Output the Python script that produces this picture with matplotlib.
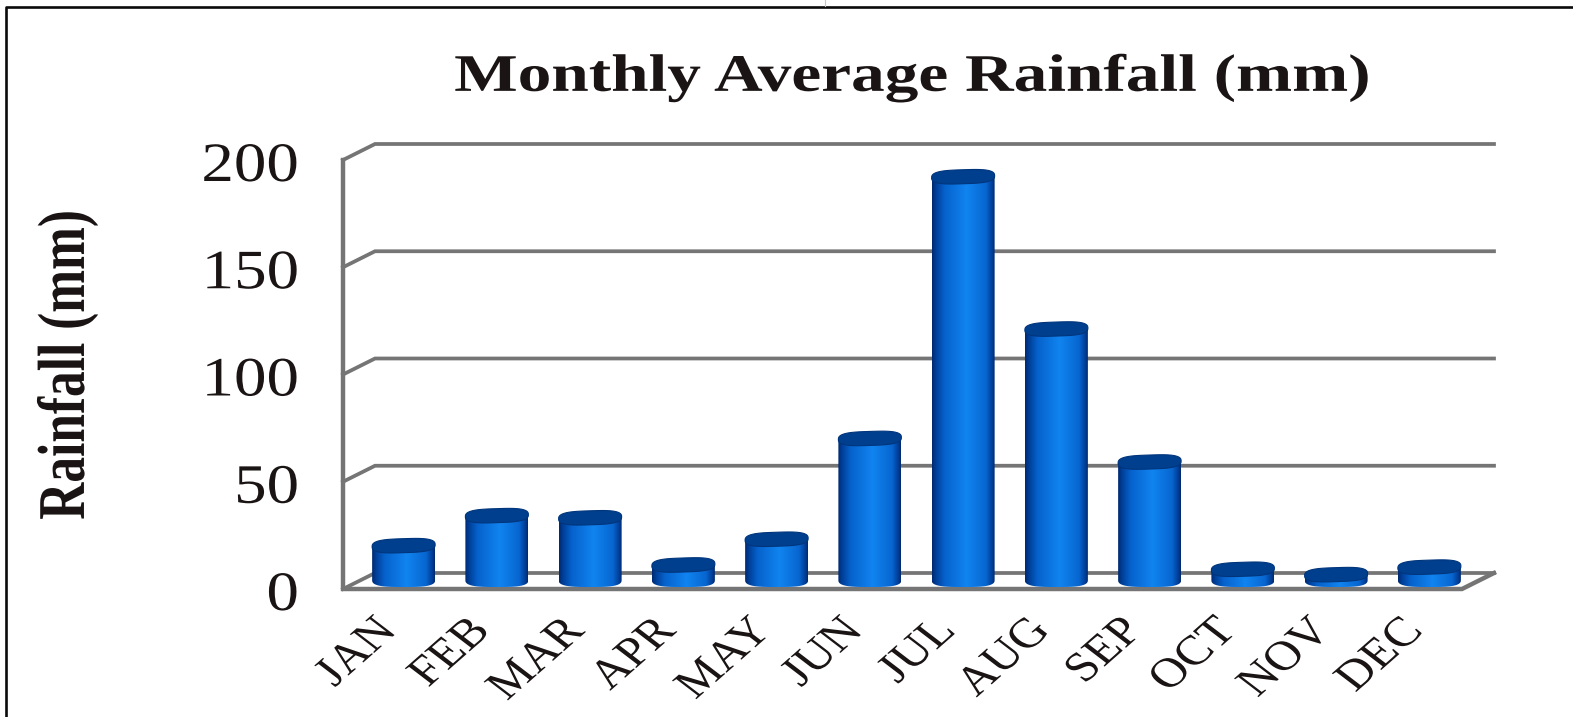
import matplotlib
matplotlib.use("Agg")

import matplotlib.pyplot as plt
import numpy as np
from matplotlib.lines import Line2D
from matplotlib.patches import PathPatch, Polygon
from matplotlib.path import Path
from matplotlib.patheffects import AbstractPathEffect
from matplotlib.transforms import Affine2D

# Rainfall per month
months = ["JAN", "FEB", "MAR", "APR", "MAY", "JUN", "JUL", "AUG", "SEP", "OCT", "NOV", "DEC"]
rainfall = [16, 30, 29, 7, 19, 66, 188, 117, 55, 5, 2.5, 6]
y_ticks = [0, 50, 100, 150, 200]

WIDTH, HEIGHT = 1573, 717
GRID_COLOR = "#757575"
TEXT_COLOR = "#1a1414"
SERIF = "Liberation Serif"

# Pixel layout of the front plane of the box
LEFT, RIGHT, BOTTOM, TOP = 343, 1462, 589, 160
X_SCALE = (RIGHT - LEFT) / len(months)
Y_SCALE = (BOTTOM - TOP) / 200

# Box depth and bar shape in data units
DEPTH_X = 32 / X_SCALE
DEPTH_Y = 16 / Y_SCALE
BAR_SHIFT = 14 / X_SCALE
BAR_WIDTH = 63 / X_SCALE
CAP_HEIGHT = 14 / Y_SCALE
CAP_TILT = 1.0 / Y_SCALE


class WideText(AbstractPathEffect):
    """Draw a text wider than the font, keeping one side of it in place"""

    def __init__(self, stretch, anchor="center", shift=(0, 0)):
        super().__init__()
        self.stretch = stretch
        self.anchor = anchor
        self.shift = shift

    def draw_path(self, renderer, gc, tpath, affine, rgbFace=None):
        box = tpath.get_extents(affine)
        x_ref = box.x1 if self.anchor == "right" else (box.x0 + box.x1) / 2
        wide = affine + (Affine2D().translate(-x_ref, 0).scale(self.stretch, 1)
                         .translate(x_ref + self.shift[0], self.shift[1]))
        renderer.draw_path(gc, tpath, wide, rgbFace)


def shade_image():
    # Horizontal shading of a cylinder, dark rim and light centre
    stops = [0.0, 0.06, 0.2, 0.55, 0.86, 0.96, 1.0]
    reds = [0, 0, 6, 16, 8, 0, 0]
    greens = [42, 62, 98, 132, 102, 62, 42]
    blues = [112, 152, 204, 240, 208, 152, 112]
    t = np.linspace(0, 1, 128)
    colors = np.stack([np.interp(t, stops, reds), np.interp(t, stops, greens), np.interp(t, stops, blues)], axis=1)
    return colors[None, :, :] / 255


def ring(center, level, width, height, tilt):
    # Slightly squared and tilted ellipse, as seen from above
    t = np.linspace(0, 2 * np.pi, 90)
    c, s = np.cos(t), np.sin(t)
    px = np.sign(c) * np.abs(c) ** 0.6
    py = np.sign(s) * np.abs(s) ** 0.75
    return np.column_stack([center + width / 2 * px, level + height / 2 * py + tilt * px])


def draw_box(ax):
    # Back wall grid lines with their side wall part
    for value in y_ticks:
        ax.plot([0, DEPTH_X, len(months) + DEPTH_X], [value, value + DEPTH_Y, value + DEPTH_Y],
                color=GRID_COLOR, lw=2.7, zorder=1, clip_on=False, solid_joinstyle="miter")

    # Left edge and floor
    ax.plot([0, 0, len(months), len(months) + DEPTH_X], [200, 0, 0, DEPTH_Y],
            color=GRID_COLOR, lw=3.2, zorder=1, clip_on=False, solid_joinstyle="miter")


def draw_cylinder(ax, center, value):
    base = DEPTH_Y / 2 + 1 / Y_SCALE
    top = base + value
    x0 = center - BAR_WIDTH / 2
    x1 = center + BAR_WIDTH / 2

    # Body of the bar, closed by the lower half of the base ring
    bottom = ring(center, base, BAR_WIDTH, CAP_HEIGHT, 0)
    bottom = bottom[bottom[:, 1] <= base]
    bottom = bottom[np.argsort(-bottom[:, 0])]
    verts = np.vstack([[(x0, top), (x1, top)], bottom, [(x0, top)]])
    outline = PathPatch(Path(verts, closed=True), transform=ax.transData, facecolor="none", edgecolor="none")
    ax.add_patch(outline)

    body = ax.imshow(shade_image(), extent=(x0, x1, base - CAP_HEIGHT / 2, top), aspect="auto",
                     interpolation="bilinear", zorder=3)
    body.set_clip_path(outline)

    # Dark cap on top
    cap = Polygon(ring(center, top, BAR_WIDTH, CAP_HEIGHT, CAP_TILT), closed=True, facecolor="#003f8e",
                  edgecolor="#00357c", lw=0.8, zorder=4, clip_on=False)
    ax.add_patch(cap)


def main():
    plt.rcParams["font.family"] = [SERIF, "DejaVu Serif"]

    fig = plt.figure(figsize=(WIDTH / 100, HEIGHT / 100), dpi=100, facecolor="white")
    ax = fig.add_axes([LEFT / WIDTH, 1 - BOTTOM / HEIGHT, (RIGHT - LEFT) / WIDTH, (BOTTOM - TOP) / HEIGHT])

    draw_box(ax)
    for i, value in enumerate(rainfall):
        draw_cylinder(ax, i + 0.5 + BAR_SHIFT, value)

    # Keep the scales after the images were added
    ax.set_xlim(0, len(months))
    ax.set_ylim(0, 200)
    ax.patch.set_visible(False)
    for spine in ax.spines.values():
        spine.set_visible(False)

    # Ticks
    ax.set_yticks(y_ticks)
    ax.set_yticklabels([str(v) for v in y_ticks], fontsize=40, color=TEXT_COLOR)
    ax.tick_params(axis="y", length=0, pad=32)
    for label in ax.get_yticklabels():
        label.set_path_effects([WideText(1.17, anchor="right", shift=(0, -1))])

    ax.set_xticks(np.arange(len(months)) + 0.5)
    ax.set_xticklabels(months, fontsize=30, color=TEXT_COLOR, rotation=47, ha="right",
                       rotation_mode="anchor")
    ax.tick_params(axis="x", length=0, pad=20)
    for label in ax.get_xticklabels():
        label.set_path_effects([WideText(1.22, shift=(-21, 5))])

    # Title and axis label
    title = fig.text(912 / WIDTH, 1 - 78 / HEIGHT, "Monthly Average Rainfall (mm)", fontsize=38, fontweight="bold",
                     color=TEXT_COLOR, ha="center", va="center")
    title.set_path_effects([WideText(1.275)])
    y_label = fig.text(68 / WIDTH, 1 - 365 / HEIGHT, "Rainfall (mm)", fontsize=37, fontweight="bold",
                       color=TEXT_COLOR, ha="center", va="center", rotation=90)
    y_label.set_path_effects([WideText(1.3)])

    # Black frame along the top and left side, with the short mark above it
    fig.add_artist(Line2D([6 / WIDTH, 6 / WIDTH, 1], [0, 1 - 7 / HEIGHT, 1 - 7 / HEIGHT], color="#0a0a0a", lw=1.9))
    fig.add_artist(Line2D([825 / WIDTH, 825 / WIDTH], [1 - 6 / HEIGHT, 1], color="#c8c8c8", lw=0.8))

    fig.savefig("out.png", dpi=100)
    plt.close(fig)


if __name__ == '__main__':
    main()
